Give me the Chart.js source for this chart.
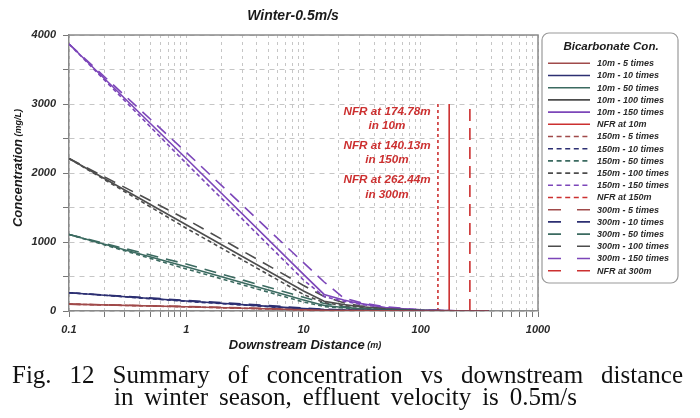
<!DOCTYPE html>
<html><head><meta charset="utf-8">
<script src="https://cdn.jsdelivr.net/npm/chart.js@4.4.1/dist/chart.umd.min.js"></script>
<style>html,body{margin:0;padding:0;background:#fff}#wrap{width:700px;height:418px;position:relative}</style>
</head><body><div id="wrap"><canvas id="c" width="700" height="418"></canvas></div>
<script>
// ---- data ----
const distances = [0.1, 1, 10, 15, 22, 30, 50, 100, 200, 380];

const c10m_5   = [100, 62, 18, 10, 7, 5, 3, 1, 0, 0];
const c10m_10  = [265, 145, 35, 20, 14, 10, 6, 2, 0, 0];
const c10m_50  = [1110, 640, 160, 80, 50, 35, 18, 5, 1, 0];
const c10m_100 = [2210, 1250, 290, 140, 95, 65, 32, 9, 2, 0];
const c10m_150 = [3870, 2210, 530, 240, 160, 110, 50, 14, 3, 0];

const c150m_5   = [100, 60, 15, 9, 6, 4, 2, 1, 0, 0];
const c150m_10  = [265, 140, 30, 17, 12, 9, 5, 2, 0, 0];
const c150m_50  = [1110, 610, 130, 65, 42, 30, 15, 4, 1, 0];
const c150m_100 = [2210, 1200, 240, 120, 80, 55, 28, 8, 2, 0];
const c150m_150 = [3870, 2140, 450, 210, 140, 100, 45, 12, 3, 0];

const c300m_5   = [100, 66, 22, 12, 8, 6, 3, 1, 0, 0];
const c300m_10  = [265, 155, 45, 25, 16, 11, 6, 2, 0, 0];
const c300m_50  = [1110, 680, 200, 110, 65, 42, 22, 6, 1, 0];
const c300m_100 = [2210, 1330, 370, 210, 120, 75, 38, 10, 2, 0];
const c300m_150 = [3870, 2300, 700, 420, 190, 125, 62, 18, 4, 0];

const nfrDistances = [174.78, 140.13, 262.44];
const nfrHeight = [0, 3000];

const timesLabels = ['5 times', '10 times', '50 times', '100 times', '150 times'];
const sources = ['10m', '150m', '300m'];
const xTickValues = [];
[0.1, 1, 10, 100].forEach(d => { for (let k = 1; k <= 9; k++) xTickValues.push(+(d * k).toPrecision(3)); });
xTickValues.push(1000);
const xLabelValues = [0.1, 1, 10, 100, 1000];

// ---- styles ----
const colors = ['#a04a4a', '#2c2f72', '#3b6a60', '#4d4d4d', '#7c46b9'];
const nfrColor = '#cc3030';
const plotDash = { solid: [], short: [4, 3], long: [12, 8] };
const legendDash = { solid: [], short: [5, 3.6], long: [13, 16] };
const srcStyle = ['solid', 'short', 'long'];

const seriesBySource = [
  [c10m_5, c10m_10, c10m_50, c10m_100, c10m_150],
  [c150m_5, c150m_10, c150m_50, c150m_100, c150m_150],
  [c300m_5, c300m_10, c300m_50, c300m_100, c300m_150]
];

const datasets = [];
sources.forEach((src, si) => {
  seriesBySource[si].forEach((vals, ti) => {
    datasets.push({
      label: src + ' - ' + timesLabels[ti],
      data: distances.map((d, i) => ({ x: d, y: vals[i] })),
      borderColor: colors[ti], backgroundColor: colors[ti],
      borderWidth: 1.6, borderDash: plotDash[srcStyle[si]],
      pointRadius: 0, tension: 0, fill: false,
      _style: srcStyle[si]
    });
  });
  datasets.push({
    label: 'NFR at ' + src,
    data: nfrHeight.map(h => ({ x: nfrDistances[si], y: h })),
    borderColor: nfrColor, backgroundColor: nfrColor,
    borderWidth: 1.6, borderDash: si === 1 ? [3, 3] : (si === 2 ? [12, 7] : []),
    pointRadius: 0, fill: false,
    _style: srcStyle[si]
  });
});

const nfrTexts = [
  ['NFR at 174.78m', 'in 10m'],
  ['NFR at 140.13m', 'in 150m'],
  ['NFR at 262.44m', 'in 300m']
];

const FONT = '"Liberation Sans", Arial, sans-serif';

function justify(ctx, text, x0, x1, y) {
  const words = text.split(' ');
  const widths = words.map(w => ctx.measureText(w).width);
  const total = widths.reduce((s, w) => s + w, 0);
  const gap = (x1 - x0 - total) / (words.length - 1);
  let x = x0;
  words.forEach((w, i) => { ctx.fillText(w, x, y); x += widths[i] + gap; });
}

const decor = {
  id: 'decor',
  afterDraw(chart) {
    const ctx = chart.ctx, a = chart.chartArea;
    ctx.save();
    // top & right frame
    ctx.strokeStyle = '#8a8a8a'; ctx.lineWidth = 1.5; ctx.setLineDash([]);
    ctx.beginPath(); ctx.moveTo(a.left, a.top); ctx.lineTo(a.right, a.top); ctx.lineTo(a.right, a.bottom); ctx.stroke();

    // NFR annotation texts
    ctx.fillStyle = nfrColor; ctx.textAlign = 'center'; ctx.textBaseline = 'middle';
    ctx.font = 'italic bold 11.7px ' + FONT;
    const ys = [[111.7, 125.5], [145.5, 160], [180, 195]];
    nfrTexts.forEach((t, i) => { ctx.fillText(t[0], 387, ys[i][0]); ctx.fillText(t[1], 387, ys[i][1]); });

    // chart title
    ctx.fillStyle = '#1a1a1a'; ctx.font = 'italic bold 14px ' + FONT;
    ctx.fillText('Winter-0.5m/s', 293, 16);

    // x title
    ctx.textAlign = 'left';
    const xt1 = 'Downstream Distance', xt2 = ' (m)';
    ctx.font = 'italic bold 13px ' + FONT; const w1 = ctx.measureText(xt1).width;
    ctx.font = 'italic bold 9px ' + FONT; const w2 = ctx.measureText(xt2).width;
    let sx = 305 - (w1 + w2) / 2;
    ctx.font = 'italic bold 13px ' + FONT; ctx.fillText(xt1, sx, 345);
    ctx.font = 'italic bold 9px ' + FONT; ctx.fillText(xt2, sx + w1, 346);

    // y title
    ctx.save(); ctx.translate(18, 168); ctx.rotate(-Math.PI / 2);
    const yt1 = 'Concentration', yt2 = ' (mg/L)';
    ctx.font = 'italic bold 13px ' + FONT; const v1 = ctx.measureText(yt1).width;
    ctx.font = 'italic bold 9px ' + FONT; const v2 = ctx.measureText(yt2).width;
    let sy = -(v1 + v2) / 2;
    ctx.font = 'italic bold 13px ' + FONT; ctx.fillText(yt1, sy, 0);
    ctx.font = 'italic bold 9px ' + FONT; ctx.fillText(yt2, sy + v1, 1);
    ctx.restore();

    // legend box
    const L = { x: 542, y: 33, w: 136, h: 250, r: 7 };
    ctx.strokeStyle = '#9a9a9a'; ctx.lineWidth = 1.2; ctx.setLineDash([]);
    ctx.beginPath(); ctx.roundRect(L.x, L.y, L.w, L.h, L.r); ctx.stroke();
    ctx.fillStyle = '#1a1a1a'; ctx.textAlign = 'center';
    ctx.font = 'italic bold 11.5px ' + FONT;
    ctx.fillText('Bicarbonate Con.', 611, 47);
    ctx.font = 'italic bold 9px ' + FONT; ctx.textAlign = 'left';
    chart.data.datasets.forEach((ds, i) => {
      const y = 63.3 + i * 12.2;
      ctx.strokeStyle = ds.borderColor; ctx.lineWidth = 1.6;
      ctx.setLineDash(legendDash[ds._style]);
      ctx.beginPath(); ctx.moveTo(548, y); ctx.lineTo(590, y); ctx.stroke();
      ctx.fillStyle = '#2a2a2a';
      ctx.fillText(ds.label, 597, y + 0.5);
    });
    ctx.setLineDash([]);

    // caption (justified first line)
    ctx.fillStyle = '#111'; ctx.textBaseline = 'alphabetic'; ctx.textAlign = 'left';
    ctx.font = '25px "Liberation Serif", "DejaVu Serif", serif';
    justify(ctx, 'Fig. 12 Summary of concentration vs downstream distance', 12, 683, 383);
    justify(ctx, 'in winter season, effluent velocity is 0.5m/s', 114, 577, 405);
    ctx.restore();
  }
};

new Chart(document.getElementById('c'), {
  type: 'line',
  data: { datasets },
  options: {
    responsive: false, animation: false, devicePixelRatio: 1,
    layout: { padding: { top: 35, right: 162, left: 0, bottom: 0 } },
    plugins: { legend: { display: false }, title: { display: false }, tooltip: { enabled: false } },
    scales: {
      x: {
        type: 'logarithmic', min: 0.1, max: 1000, position: 'bottom',
        afterBuildTicks: s => { s.ticks = xTickValues.map(v => ({ value: v, major: xLabelValues.includes(v) })); },
        afterFit: s => { s.height = 107; },
        ticks: {
          autoSkip: false, maxRotation: 0, padding: 6, color: '#2a2a2a',
          font: { family: FONT, size: 11, style: 'italic', weight: 'bold' },
          callback: v => xLabelValues.includes(v) ? String(v) : ''
        },
        grid: { color: '#c6c6c6', lineWidth: 1,
                tickColor: '#777', tickLength: 6, tickBorderDash: [], tickWidth: 1 },
        border: { color: '#8a8a8a', width: 1.5, dash: [3, 4] }
      },
      y: {
        type: 'linear', min: 0, max: 4000,
        afterFit: s => { s.width = 69; },
        ticks: {
          stepSize: 500, padding: 7, color: '#2a2a2a',
          font: { family: FONT, size: 11, style: 'italic', weight: 'bold' },
          callback: v => v % 1000 === 0 ? String(v) : ''
        },
        grid: { color: '#c6c6c6', lineWidth: 1,
                tickColor: '#777', tickLength: 6, tickBorderDash: [], tickWidth: 1 },
        border: { color: '#8a8a8a', width: 1.5, dash: [5, 5] }
      }
    }
  },
  plugins: [decor]
});
</script></body></html>
